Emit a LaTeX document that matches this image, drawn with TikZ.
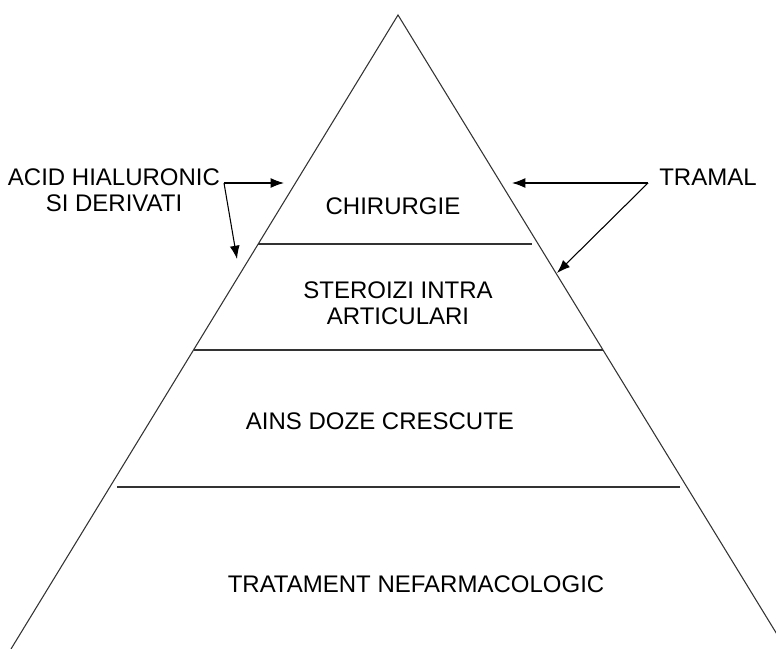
\documentclass[tikz,border=0pt]{standalone}
\usepackage{fontspec}
\setmainfont{Liberation Sans}
\usetikzlibrary{arrows.meta}

\tikzset{
  lbl/.style={font=\fontsize{18}{19.5}\selectfont, inner sep=0pt, align=center},
  tier/.style={line width=0.8pt, black!80},
  pointer/.style={line width=0.8pt, black, -{Latex[length=3.5mm,width=2.6mm]}}
}

\begin{document}
\begin{tikzpicture}[x=0.75pt,y=-0.75pt]
  \useasboundingbox (0,0) rectangle (776,649);
  \coordinate (top) at (398,15);

  % pyramid sides, cut by the page edge
  \begin{scope}
    \clip (0,0) rectangle (776,649);
    \draw[tier] (11,649) -- (top) -- (786,649);
  \end{scope}
  \draw[tier] (258,244) -- (532,244);
  \draw[tier] (194,350) -- (603,350);
  \draw[tier] (117,487) -- (680,487);

  \node[lbl] (chir) at (393,206) {CHIRURGIE};
  \node[lbl] (ster) at (398,303) {STEROIZI INTRA\\ARTICULARI};
  \node[lbl] (ains) at (380,421) {AINS DOZE CRESCUTE};
  \node[lbl] (trat) at (416,584) {TRATAMENT NEFARMACOLOGIC};

  \node[lbl] (acid) at (114,190) {ACID HIALURONIC\\SI DERIVATI};
  \node[lbl] (tram) at (708,177) {TRAMAL};

  \coordinate (acidfork) at (224,183);
  \coordinate (acidup) at (284,183);
  \coordinate (aciddown) at (237,259);
  \coordinate (tramfork) at (648,183);
  \coordinate (tramup) at (512,183);
  \coordinate (tramdown) at (557,273);

  \draw[pointer] (acidfork) -- (acidup);
  \draw[pointer] (acidfork) -- (aciddown);
  \draw[pointer] (tramfork) -- (tramup);
  \draw[pointer] (tramfork) -- (tramdown);
\end{tikzpicture}
\end{document}
